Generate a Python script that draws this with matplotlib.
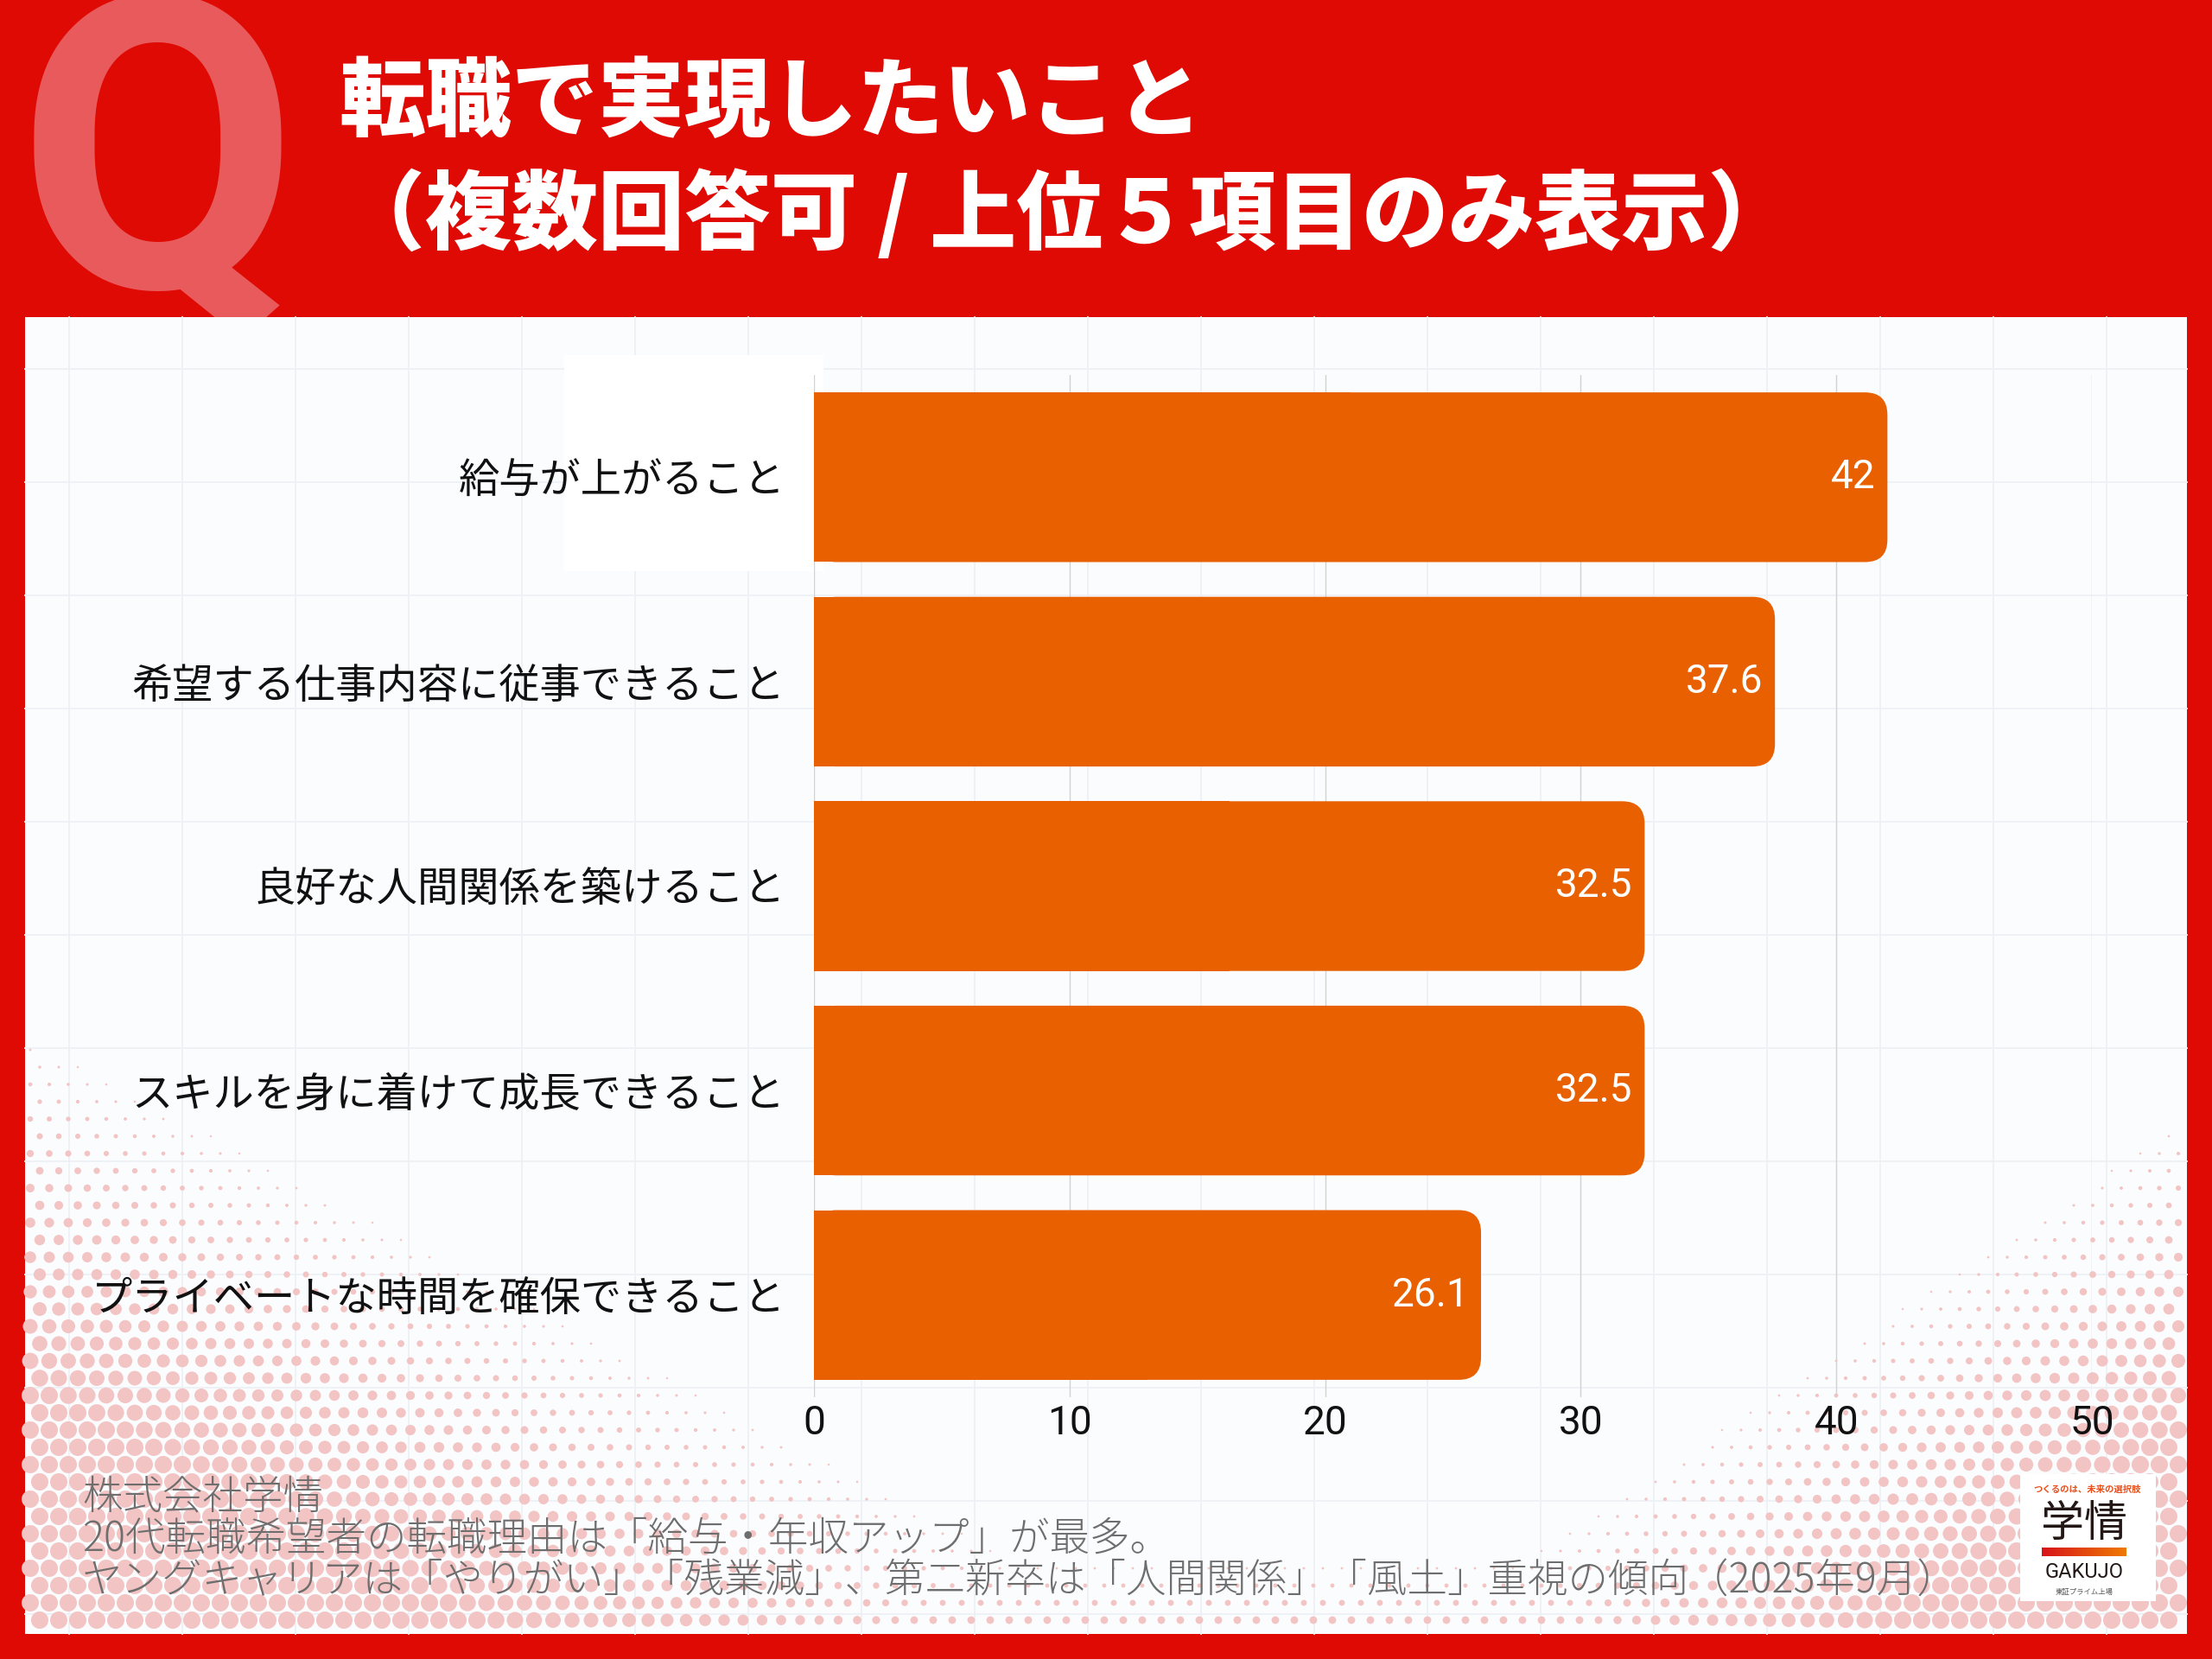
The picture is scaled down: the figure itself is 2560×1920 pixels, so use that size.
import numpy as np
import matplotlib
matplotlib.use("Agg")
import matplotlib.pyplot as plt
from matplotlib.patches import Rectangle, FancyBboxPatch
from matplotlib.colors import LinearSegmentedColormap

plt.rcParams['font.family'] = ['Noto Sans CJK JP', 'DejaVu Sans']

# data
categories = ["給与が上がること",
              "希望する仕事内容に従事できること",
              "良好な人間関係を築けること",
              "スキルを身に着けて成長できること",
              "プライベートな時間を確保できること"]
values = [42, 37.6, 32.5, 32.5, 26.1]
xticks = [0, 10, 20, 30, 40, 50]

title1 = "転職で実現したいこと"
title2 = "（複数回答可 / 上位５項目のみ表示）"
footer = ("株式会社学情\n"
          "20代転職希望者の転職理由は「給与・年収アップ」が最多。\n"
          "ヤングキャリアは「やりがい」「残業減」、第二新卒は「人間関係」「風土」重視の傾向（2025年9月）")

RED = "#DE0A03"
BAR = "#E86000"
W, H = 2560, 1920

fig = plt.figure(figsize=(25.6, 19.2), dpi=100)
fig.patch.set_facecolor(RED)

# background layer in pixel coordinates
bg = fig.add_axes([0, 0, 1, 1], zorder=0)
bg.set_xlim(0, W)
bg.set_ylim(H, 0)
bg.axis("off")

# big Q behind the panel
bg.text(20, 332, "Q", fontsize=340, family="Roboto", weight="bold",
        color="#E85A5C", ha="left", va="baseline", zorder=1)

# title
bg.text(392, 120, title1, fontsize=72, weight="black", color="white",
        ha="left", va="center", zorder=3)
bg.text(392, 250, title2, fontsize=72, weight="black", color="white",
        ha="left", va="center", zorder=3)

# white panel
px0, py0, px1, py1 = 29, 367, 2531, 1891
bg.add_patch(Rectangle((px0, py0), px1 - px0, py1 - py0, facecolor="#FBFCFD",
                       edgecolor="none", zorder=2))

# graph paper lines
for gx in np.arange(px0 + 51, px1, 131):
    bg.plot([gx, gx], [py0, py1], color="#EDF1F7", lw=1.3, zorder=3)
for gy in np.arange(py0 + 60, py1, 131):
    bg.plot([px0, px1], [gy, gy], color="#EDF1F7", lw=1.3, zorder=3)

# halftone dots
dx, dy = 22, 20
pts_x, pts_y, rad = [], [], []
for j, yy in enumerate(np.arange(py0 + 8, py1 - 4, dy)):
    off = 11 if j % 2 else 0
    for xx in np.arange(px0 + 6 + off, px1 - 4, dx):
        u, v = xx - px0, yy - py0
        il = (v - 780) / 450 - u / 850
        ir = (v - 880) / 400 - (px1 - px0 - u) / 600
        ib = (v - 1420) / 200
        it = min(max(il, ir, ib, 0), 1)
        r = 10.0 * it
        if r > 1.2:
            pts_x.append(xx)
            pts_y.append(yy)
            rad.append(r)
rad = np.array(rad)
bg.scatter(pts_x, pts_y, s=(2 * rad * 0.72) ** 2, color="#F3C4C4",
           edgecolors="none", zorder=4)

# white box behind the top label
bg.add_patch(Rectangle((653, 411), 300, 250, facecolor="white",
                       edgecolor="none", zorder=5))

# footer
bg.text(95, 1708, footer, fontsize=33.5, color="#6E6E6E", weight="light",
        ha="left", va="top", linespacing=1.0, zorder=6)

# logo
bg.add_patch(Rectangle((2338, 1706), 157, 147, facecolor="white",
                       edgecolor="none", zorder=6))
bg.text(2416, 1724, "つくるのは、未来の選択肢", fontsize=7.5, color="#E8501C",
        ha="center", va="center", weight="bold", zorder=7)
bg.text(2412, 1764, "学情", fontsize=36, color="#231815", ha="center",
        va="center", weight="regular", zorder=7)
grad = np.linspace(0, 1, 200).reshape(1, -1)
cmap = LinearSegmentedColormap.from_list("logo", ["#D7141A", "#EE7A00"])
bg.imshow(grad, extent=(2363, 2461, 1801, 1791), cmap=cmap, aspect="auto",
          zorder=7)
bg.text(2412, 1820, "GAKUJO", fontsize=17, family="Roboto", color="#231815",
        ha="center", va="center", zorder=7)
bg.text(2412, 1842, "東証プライム上場", fontsize=6, color="#555555",
        ha="center", va="center", zorder=7)
bg.set_xlim(0, W)
bg.set_ylim(H, 0)

# bar chart
ax = fig.add_axes([942 / W, 1 - 1617 / H, (2421 - 942) / W, (1617 - 434) / H],
                  zorder=1)
ax.patch.set_alpha(0)
ypos = np.arange(len(categories))
bars = ax.barh(ypos, values, height=0.83, color=BAR, zorder=2)
ax.set_xlim(0, 50)
ax.set_ylim(len(categories) - 0.5, -0.5)
ax.set_xticks(xticks)
ax.set_xticklabels([str(t) for t in xticks], family="Roboto")
ax.set_yticks(ypos)
ax.set_yticklabels(categories, fontsize=34, color="#111111")
ax.tick_params(axis="x", labelsize=33, length=0, pad=6, colors="#111111")
ax.tick_params(axis="y", length=0, pad=24)
for s in ax.spines.values():
    s.set_visible(False)
ax.xaxis.grid(True, color="#D2D2D2", lw=1)
ax.set_axisbelow(True)

# rounded right ends
ax_w = ax.get_position().width * W
ax_h = ax.get_position().height * H
ux = ax_w / 50
uy = ax_h / len(categories)
rs = 26 / ux
for b in bars:
    x0, y0, w, h = b.get_x(), b.get_y(), b.get_width(), b.get_height()
    b.set_visible(False)
    ax.add_patch(FancyBboxPatch((x0, y0), w, h,
                                boxstyle=f"round,pad=0,rounding_size={rs}",
                                mutation_aspect=ux / uy, facecolor=BAR,
                                edgecolor="none", zorder=2))
    ax.add_patch(Rectangle((x0, y0), w / 2, h, facecolor=BAR,
                           edgecolor="none", zorder=2))

for i, v in enumerate(values):
    ax.annotate(f"{v:g}", xy=(v, i), xytext=(-10, 0), textcoords="offset points",
                ha="right", va="center", color="white", fontsize=33,
                family="Roboto", zorder=3)

fig.savefig("out.png", dpi=100, facecolor=fig.get_facecolor())
